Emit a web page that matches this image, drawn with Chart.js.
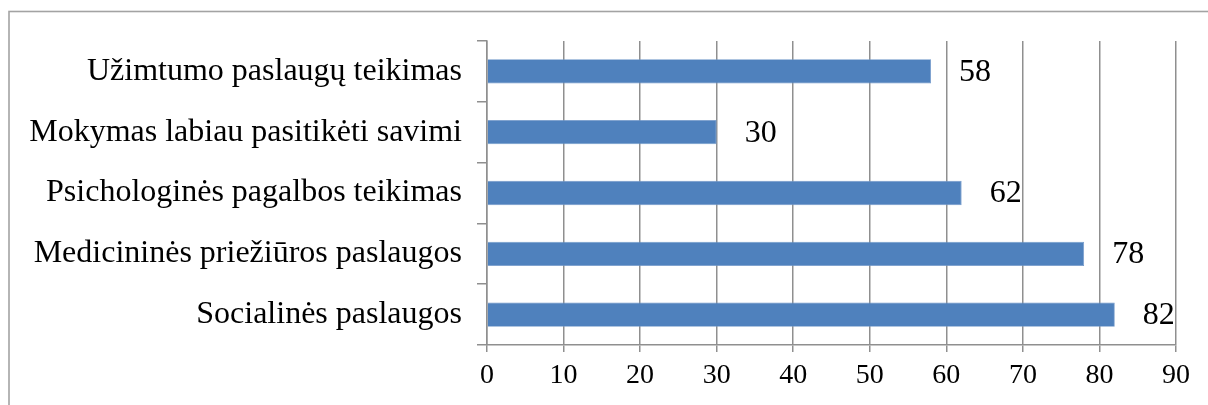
<!DOCTYPE html>
<html>
<head>
<meta charset="utf-8">
<script src="https://cdn.jsdelivr.net/npm/chart.js@4/dist/chart.umd.min.js"></script>
<style>
  html, body { margin: 0; padding: 0; background: #fff; }
  #wrap { width: 1208px; height: 405px; position: relative; }
</style>
</head>
<body>
<div id="wrap"><canvas id="chart"></canvas></div>
<script>
// Services and how many respondents named each
const categories = [
  'Užimtumo paslaugų teikimas',
  'Mokymas labiau pasitikėti savimi',
  'Psichologinės pagalbos teikimas',
  'Medicininės priežiūros paslaugos',
  'Socialinės paslaugos'
];
const values = [58, 30, 62, 78, 82];
const axisMin = 0;
const axisMax = 90;
const axisStep = 10;

const FONT = '"Liberation Serif", "Times New Roman", serif';
const GRID = '#8f8f8f';

// Thin frame around the whole figure
const framePlugin = {
  id: 'frame',
  beforeDraw(chart) {
    const ctx = chart.ctx;
    ctx.save();
    ctx.strokeStyle = '#a3a3a3';
    ctx.lineWidth = 1.6;
    ctx.strokeRect(9, 11.5, chart.width + 20, chart.height + 20);
    ctx.restore();
  }
};

// Value written to the right of each bar
const valueLabels = {
  id: 'valueLabels',
  afterDatasetsDraw(chart) {
    const ctx = chart.ctx;
    const meta = chart.getDatasetMeta(0);
    const data = chart.data.datasets[0].data;
    ctx.save();
    ctx.font = '32px ' + FONT;
    ctx.fillStyle = '#000';
    ctx.textAlign = 'left';
    ctx.textBaseline = 'middle';
    meta.data.forEach((bar, i) => {
      ctx.fillText(String(data[i]), bar.x + 28, bar.y + 1);
    });
    ctx.restore();
  }
};

new Chart(document.getElementById('chart'), {
  type: 'bar',
  data: {
    labels: categories,
    datasets: [{
      data: values,
      backgroundColor: '#4f81bd',
      borderColor: '#6f97c9',
      borderWidth: 0.8,
      barPercentage: 0.4,
      categoryPercentage: 1.0
    }]
  },
  options: {
    indexAxis: 'y',
    responsive: true,
    maintainAspectRatio: false,
    devicePixelRatio: 1,
    animation: false,
    layout: { padding: { top: 41, right: 32, bottom: 0, left: 0 } },
    plugins: {
      legend: { display: false },
      tooltip: { enabled: false }
    },
    scales: {
      x: {
        min: axisMin,
        max: axisMax,
        ticks: {
          stepSize: axisStep,
          color: '#000',
          font: { family: FONT, size: 28 },
          padding: 7
        },
        grid: {
          color: GRID,
          lineWidth: 1.5,
          tickLength: 7,
          tickColor: GRID
        },
        border: { color: GRID, width: 1.5 },
        afterFit(scale) { scale.height = 60; }
      },
      y: {
        ticks: {
          color: '#000',
          font: { family: FONT, size: 32 },
          padding: 15
        },
        grid: {
          drawOnChartArea: false,
          drawTicks: true,
          tickLength: 10,
          color: GRID,
          lineWidth: 1.5
        },
        border: { color: GRID, width: 1.5 },
        afterFit(scale) { scale.width = 487; }
      }
    }
  },
  plugins: [framePlugin, valueLabels]
});
</script>
</body>
</html>
